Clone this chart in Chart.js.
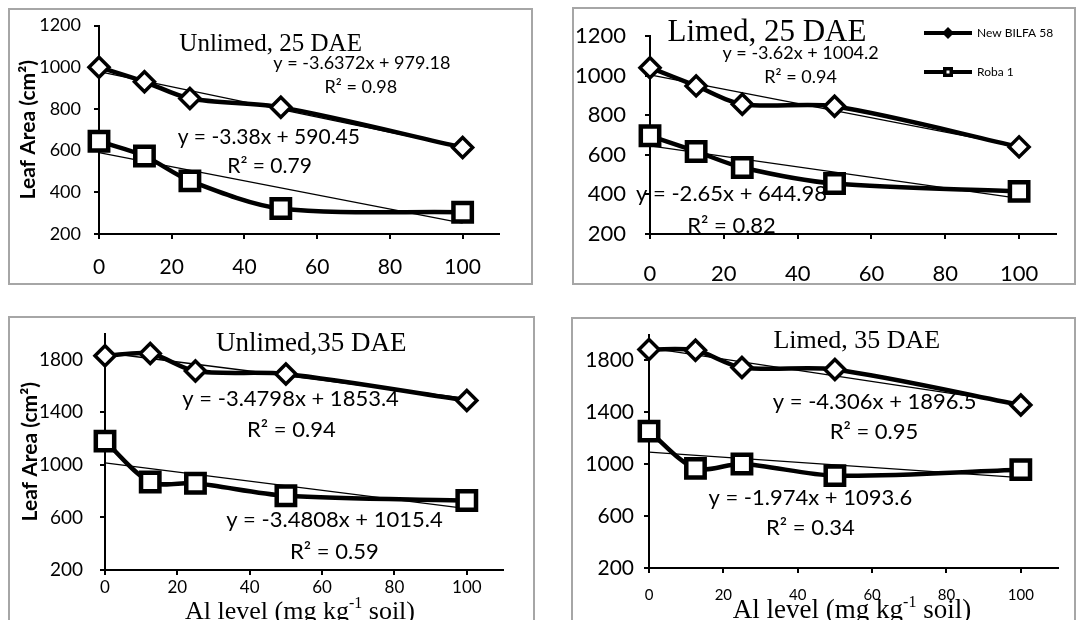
<!DOCTYPE html>
<html lang="en">
<head>
<meta charset="UTF-8">
<title>Leaf area vs Al level</title>
<script src="https://cdn.jsdelivr.net/npm/chart.js"></script>
<style>
    html, body { margin: 0; padding: 0; background: #fff; overflow: hidden; }
    body { width: 1079px; height: 620px; position: relative; }
    canvas { position: absolute; }
    .frame { position: absolute; box-sizing: border-box; border: 2px solid #a6a6a6; pointer-events: none; }
</style>
</head>
<body>
<script>
// Al levels (mg/kg soil) on the x axis
const alLevels = [0, 12.5, 25, 50, 100];
const xTickValues = [0, 20, 40, 60, 80, 100];
const yTicks25 = [200, 400, 600, 800, 1000, 1200];
const yTicks35 = [200, 600, 1000, 1400, 1800];

// leaf area (cm2)
const bilfaUnlimed25 = [1000, 930, 850, 808, 615];
const robaUnlimed25 = [645, 574, 455, 322, 304];
const bilfaLimed25 = [1040, 948, 855, 845, 640];
const robaLimed25 = [696, 617, 536, 455, 415];
const bilfaUnlimed35 = [1830, 1848, 1714, 1692, 1490];
const robaUnlimed35 = [1181, 870, 860, 765, 729];
const bilfaLimed35 = [1885, 1878, 1745, 1730, 1456];
const robaLimed35 = [1255, 968, 1002, 912, 958];

// linear trend lines, ends at x = 0 and x = 100
const trendX = [0, 100];
const trendBilfaUnlimed25 = [979.18, 615.46];
const trendRobaUnlimed25 = [590.45, 252.45];
const trendBilfaLimed25 = [1004.2, 642.2];
const trendRobaLimed25 = [644.98, 379.98];
const trendBilfaUnlimed35 = [1853.4, 1505.4];
const trendRobaUnlimed35 = [1015.4, 667.3];
const trendBilfaLimed35 = [1896.5, 1465.9];
const trendRobaLimed35 = [1093.6, 896.2];

const seriesNames = ['New BILFA 58', 'Roba 1'];
const panelTitles = ['Unlimed, 25 DAE', 'Limed, 25 DAE', 'Unlimed,35 DAE', 'Limed, 35 DAE'];
const equations = [
    ['y = -3.6372x + 979.18', 'R² = 0.98', 'y = -3.38x + 590.45', 'R² = 0.79'],
    ['y = -3.62x + 1004.2', 'R² = 0.94', 'y = -2.65x + 644.98', 'R² = 0.82'],
    ['y = -3.4798x + 1853.4', 'R² = 0.94', 'y = -3.4808x + 1015.4', 'R² = 0.59'],
    ['y = -4.306x + 1896.5', 'R² = 0.95', 'y = -1.974x + 1093.6', 'R² = 0.34']
];
const yTitle = 'Leaf Area (cm²)';

Chart.defaults.font.family = 'Lato, "Open Sans", sans-serif';
Chart.defaults.color = '#000';

const SERIF = '"Liberation Serif", "Times New Roman", serif';

function pts(xs, ys) {
    return xs.map((x, i) => ({ x: x, y: ys[i] }));
}

// text inside the plot: titles, trend equations, legend, x title
const notesPlugin = {
    id: 'notes',
    afterDatasetsDraw(chart, args, opts) {
        const ctx = chart.ctx;
        const xs = chart.scales.x, ys = chart.scales.y;
        ctx.save();
        ctx.fillStyle = '#000';
        ctx.textAlign = 'center';
        ctx.textBaseline = 'middle';
        (opts.items || []).forEach(n => {
            ctx.font = n.font;
            ctx.fillText(n.text, xs.getPixelForValue(n.x), ys.getPixelForValue(n.y));
        });

        if (opts.legend) {
            const lg = opts.legend;
            ctx.textAlign = 'left';
            ctx.font = '12px Lato';
            lg.rows.forEach((r, i) => {
                ctx.strokeStyle = '#000';
                ctx.lineWidth = 4;
                ctx.beginPath();
                ctx.moveTo(lg.x, r.y);
                ctx.lineTo(lg.x + 48, r.y);
                ctx.stroke();
                const cx = lg.x + 24;
                ctx.fillStyle = '#000';
                if (i === 0) {
                    ctx.beginPath();
                    ctx.moveTo(cx, r.y - 6);
                    ctx.lineTo(cx + 6, r.y);
                    ctx.lineTo(cx, r.y + 6);
                    ctx.lineTo(cx - 6, r.y);
                    ctx.closePath();
                    ctx.fill();
                } else {
                    ctx.fillRect(cx - 5, r.y - 5, 10, 10);
                    ctx.fillStyle = '#fff';
                    ctx.fillRect(cx - 1.5, r.y - 1.5, 3, 3);
                }
                ctx.fillStyle = '#000';
                ctx.fillText(seriesNames[i], lg.x + 53, r.y);
            });
        }

        if (opts.xTitle) {
            const t = opts.xTitle;
            const parts = [
                { s: 'Al level (mg kg', f: t.size + 'px ' + SERIF, dy: 0 },
                { s: '-1', f: Math.round(t.size * 0.6) + 'px ' + SERIF, dy: -t.size * 0.32 },
                { s: ' soil)', f: t.size + 'px ' + SERIF, dy: 0 }
            ];
            let total = 0;
            parts.forEach(p => { ctx.font = p.f; p.w = ctx.measureText(p.s).width; total += p.w; });
            let px = t.x - total / 2;
            ctx.textAlign = 'left';
            parts.forEach(p => {
                ctx.font = p.f;
                ctx.fillText(p.s, px, t.y + p.dy);
                px += p.w;
            });
        }
        ctx.restore();
    }
};

function buildPanel(p) {
    const [bl, bt, br, bb] = p.box;
    const [al, at, ar, ab] = p.area;
    const w = br - bl, h = bb - bt;

    const canvas = document.createElement('canvas');
    canvas.width = w;
    canvas.height = h;
    canvas.style.left = bl + 'px';
    canvas.style.top = bt + 'px';
    canvas.style.width = w + 'px';
    canvas.style.height = h + 'px';
    document.body.appendChild(canvas);

    const frame = document.createElement('div');
    frame.className = 'frame';
    frame.style.left = bl + 'px';
    frame.style.top = bt + 'px';
    frame.style.width = w + 'px';
    frame.style.height = h + 'px';
    document.body.appendChild(frame);

    const line = (data, isBilfa) => ({
        data: pts(alLevels, data),
        borderColor: '#000',
        borderWidth: 4.5,
        tension: 0.3,
        pointStyle: isBilfa ? 'rectRot' : 'rect',
        pointRadius: isBilfa ? 10 : 13,
        pointBorderWidth: isBilfa ? 3.5 : 4.5,
        pointBackgroundColor: '#fff',
        pointBorderColor: '#000',
        clip: false,
        order: 1
    });
    const trend = data => ({
        data: pts(trendX, data),
        borderColor: '#000',
        borderWidth: 1.3,
        pointRadius: 0,
        tension: 0,
        clip: false,
        order: 2
    });

    new Chart(canvas, {
        type: 'line',
        data: {
            datasets: [
                line(p.bilfa, true),
                line(p.roba, false),
                trend(p.trendBilfa),
                trend(p.trendRoba)
            ]
        },
        options: {
            responsive: false,
            animation: false,
            devicePixelRatio: 1,
            layout: { padding: { left: 0, top: at - bt, right: br - ar, bottom: 0 } },
            plugins: {
                legend: { display: false },
                tooltip: { enabled: false },
                notes: { items: p.notes, legend: p.legend, xTitle: p.xTitle }
            },
            scales: {
                x: {
                    type: 'linear',
                    min: 0,
                    max: 110,
                    grid: { drawOnChartArea: false, drawTicks: true, tickLength: 5, color: '#000', lineWidth: 2 },
                    border: { color: '#000', width: 2 },
                    ticks: { font: { size: p.xTickSize }, padding: p.xPad, maxRotation: 0, autoSkip: false, callback: v => String(v) },
                    afterBuildTicks: s => { s.ticks = xTickValues.map(v => ({ value: v })); },
                    afterFit: s => {
                        s.height = bb - ab;
                        s.paddingLeft = 0; s.paddingRight = 0;
                    }
                },
                y: {
                    min: p.yMin,
                    max: p.yMax,
                    grid: { drawOnChartArea: false, drawTicks: true, tickLength: 5, color: '#000', lineWidth: 2 },
                    border: { color: '#000', width: 2 },
                    ticks: { font: { size: p.yTickSize }, padding: p.yPad, callback: v => String(v) },
                    title: p.showYTitle ? {
                        display: true,
                        text: yTitle,
                        font: { size: 21, weight: 'bold' },
                        padding: { top: p.yTitlePad, bottom: 0 }
                    } : { display: false },
                    afterBuildTicks: s => { s.ticks = p.yTicks.map(v => ({ value: v })); },
                    afterFit: s => {
                        s.width = al - bl;
                        s.paddingTop = 0; s.paddingBottom = 0;
                    }
                }
            }
        },
        plugins: [notesPlugin]
    });
}

// top left
buildPanel({
    box: [8, 8, 533, 285], area: [99, 24, 499, 234],
    yMin: 200, yMax: 1200, yTicks: yTicks25,
    bilfa: bilfaUnlimed25, roba: robaUnlimed25,
    trendBilfa: trendBilfaUnlimed25, trendRoba: trendRobaUnlimed25,
    xTickSize: 21, xPad: 16, yTickSize: 18, yPad: 13,
    showYTitle: true, yTitlePad: 8,
    notes: [
        { text: panelTitles[0], x: 47.2, y: 1108, font: '25px ' + SERIF },
        { text: equations[0][0], x: 72.3, y: 1020, font: '18px Lato' },
        { text: equations[0][1], x: 72, y: 904, font: '18px Lato' },
        { text: equations[0][2], x: 46.7, y: 665, font: '21px Lato' },
        { text: equations[0][3], x: 46.9, y: 527, font: '21px Lato' }
    ]
});

// top right
buildPanel({
    box: [572, 7, 1076, 285], area: [650, 36, 1056, 234],
    yMin: 200, yMax: 1200, yTicks: yTicks25,
    bilfa: bilfaLimed25, roba: robaLimed25,
    trendBilfa: trendBilfaLimed25, trendRoba: trendRobaLimed25,
    xTickSize: 22, xPad: 22, yTickSize: 22, yPad: 19,
    showYTitle: false,
    notes: [
        { text: panelTitles[1], x: 31.7, y: 1217, font: '31px ' + SERIF },
        { text: equations[1][0], x: 40.8, y: 1111, font: '18px Lato' },
        { text: equations[1][1], x: 40.8, y: 993, font: '18px Lato' },
        { text: equations[1][2], x: 22.1, y: 402, font: '22px Lato' },
        { text: equations[1][3], x: 22.1, y: 242, font: '22px Lato' }
    ],
    legend: { x: 352, rows: [{ y: 26 }, { y: 65 }] }
});

// bottom left
buildPanel({
    box: [8, 316, 535, 622], area: [105, 326, 503, 570],
    yMin: 200, yMax: 2000, yTicks: yTicks35,
    bilfa: bilfaUnlimed35, roba: robaUnlimed35,
    trendBilfa: trendBilfaUnlimed35, trendRoba: trendRobaUnlimed35,
    xTickSize: 17, xPad: 2, yTickSize: 19, yPad: 17,
    showYTitle: true, yTitlePad: 10,
    notes: [
        { text: panelTitles[2], x: 57.0, y: 1917, font: '27px ' + SERIF },
        { text: equations[2][0], x: 51.3, y: 1501, font: '22px Lato' },
        { text: equations[2][1], x: 51.5, y: 1267, font: '22px Lato' },
        { text: equations[2][2], x: 63.4, y: 578, font: '22px Lato' },
        { text: equations[2][3], x: 63.4, y: 339, font: '22px Lato' }
    ],
    xTitle: { x: 292, y: 296, size: 26 }
});

// bottom right
buildPanel({
    box: [571, 317, 1076, 622], area: [649, 334, 1058, 568],
    yMin: 200, yMax: 2000, yTicks: yTicks35,
    bilfa: bilfaLimed35, roba: robaLimed35,
    trendBilfa: trendBilfaLimed35, trendRoba: trendRobaLimed35,
    xTickSize: 15, xPad: 13, yTickSize: 21, yPad: 10,
    showYTitle: false,
    notes: [
        { text: panelTitles[3], x: 55.9, y: 1946, font: '26px ' + SERIF },
        { text: equations[3][0], x: 60.7, y: 1482, font: '22px Lato' },
        { text: equations[3][1], x: 60.5, y: 1249, font: '22px Lato' },
        { text: equations[3][2], x: 43.4, y: 740, font: '22px Lato' },
        { text: equations[3][3], x: 43.4, y: 507, font: '22px Lato' }
    ],
    xTitle: { x: 281, y: 294, size: 27 }
});
</script>
</body>
</html>
